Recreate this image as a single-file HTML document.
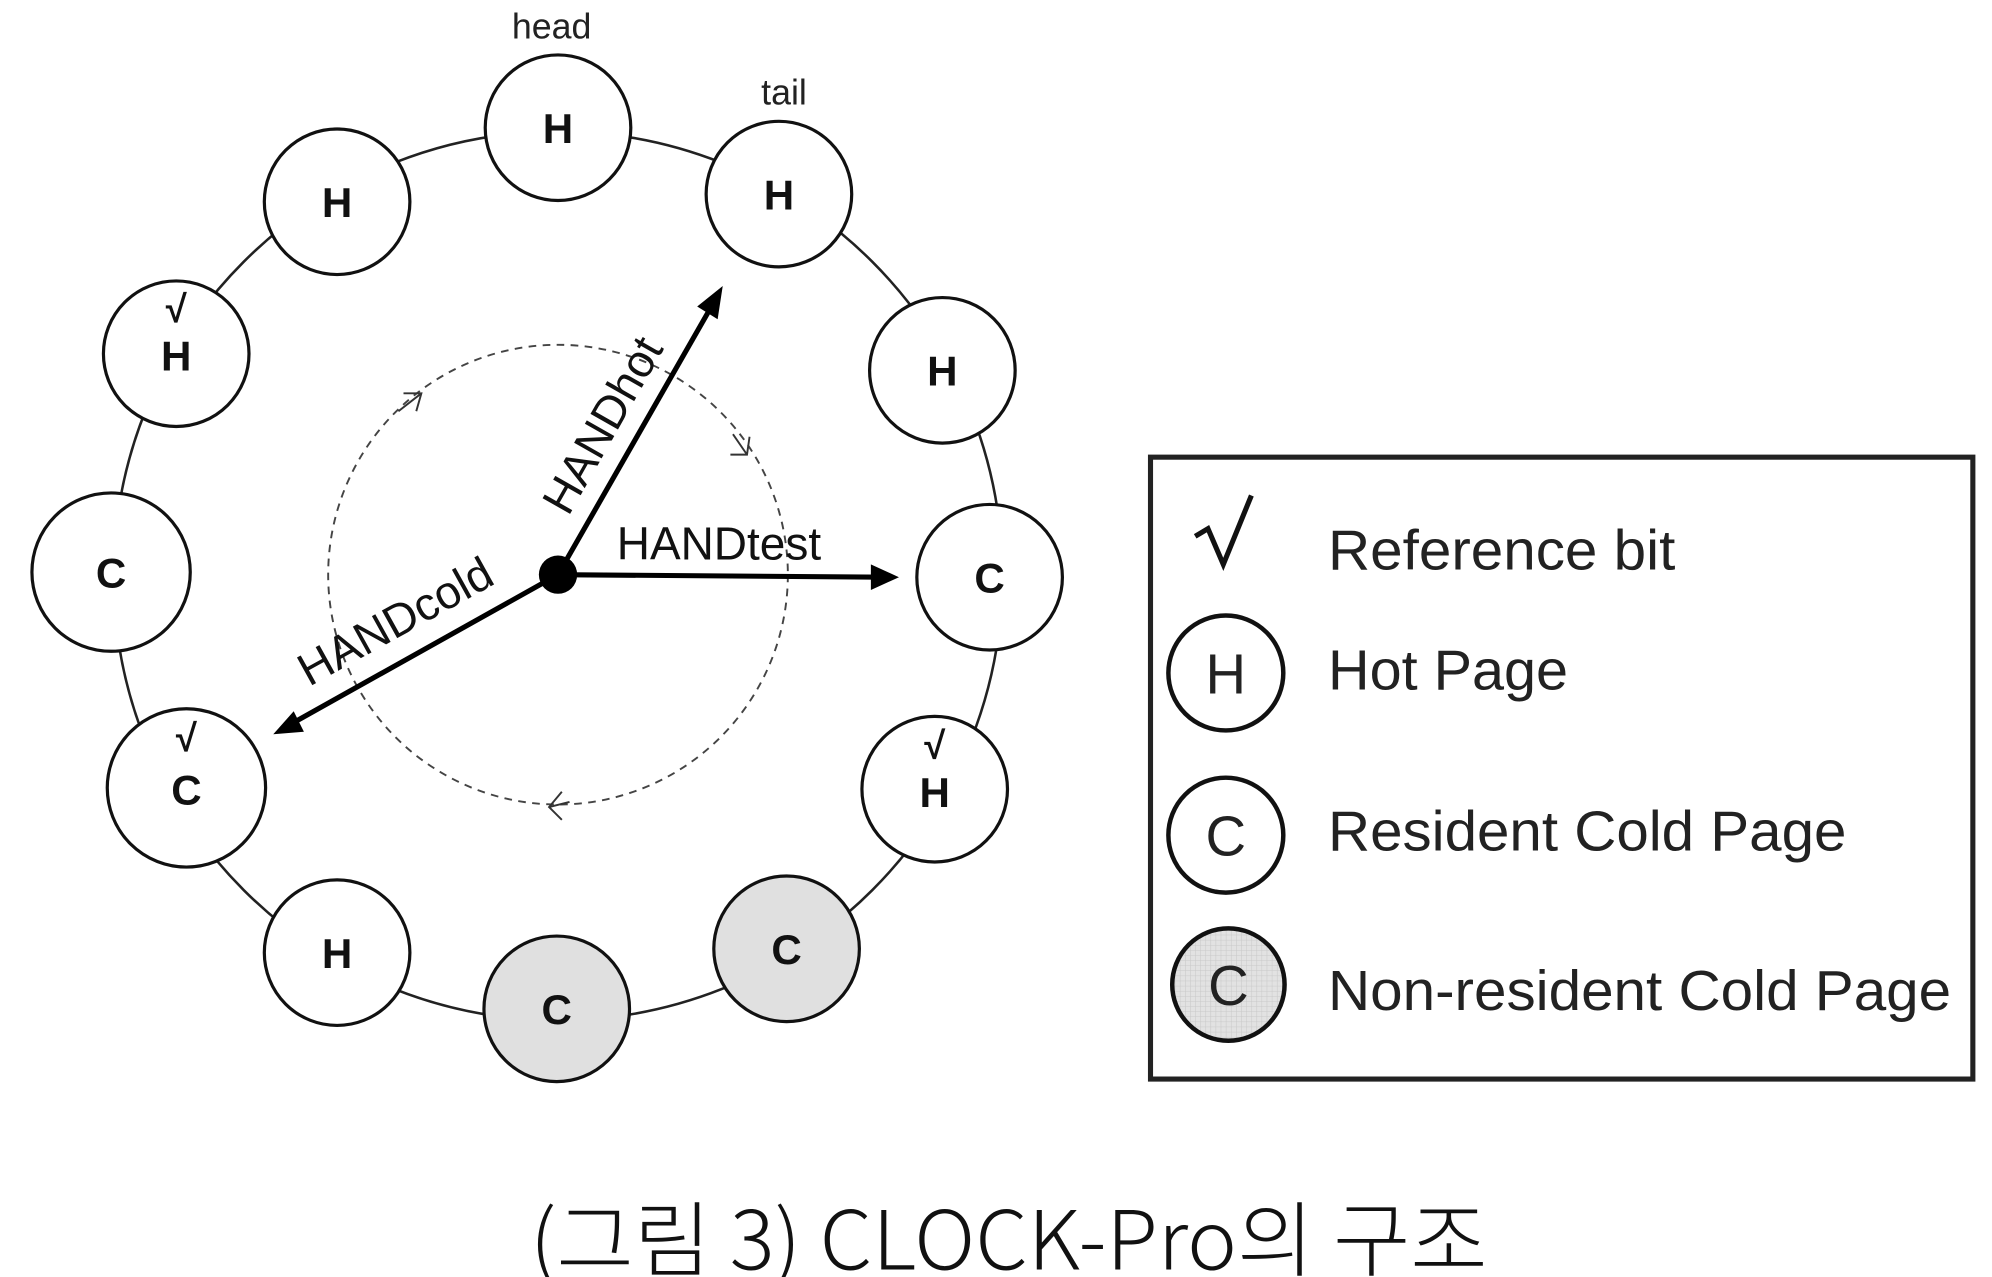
<!DOCTYPE html>
<html><head><meta charset="utf-8"><style>
html,body{margin:0;padding:0;background:#fff;}
svg{display:block;}
</style></head><body>
<svg width="1992" height="1277" viewBox="0 0 1560 1000" preserveAspectRatio="none" xmlns="http://www.w3.org/2000/svg">
<defs>
<pattern id="g" width="4" height="4" patternUnits="userSpaceOnUse"><rect width="4" height="4" fill="#e2e2e2"/><path d="M0 0H4M0 0V4" stroke="#c8c8c8" stroke-width="0.8"/></pattern>
</defs>
<g font-family="Liberation Sans, sans-serif">
<circle cx="437" cy="451" r="348" fill="none" stroke="#222" stroke-width="2"/>
<circle cx="437" cy="450" r="180" fill="none" stroke="#444" stroke-width="1.5" stroke-dasharray="6,5"/>
<path d="M312 322l18-14M316 308l14 0 -4 14" fill="none" stroke="#333" stroke-width="1.5"/>
<path d="M574 340l11 16M572 356l13 0 2-14" fill="none" stroke="#333" stroke-width="1.5"/>
<path d="M446 628l-16 4M440 620l-10 12 10 10" fill="none" stroke="#333" stroke-width="1.5"/>
<g stroke="#111" stroke-width="2.5">
<circle cx="437" cy="100" r="57" fill="#fff"/>
<circle cx="610" cy="152" r="57" fill="#fff"/>
<circle cx="738" cy="290" r="57" fill="#fff"/>
<circle cx="775" cy="452" r="57" fill="#fff"/>
<circle cx="732" cy="618" r="57" fill="#fff"/>
<circle cx="616" cy="743" r="57" fill="#e0e0e0"/>
<circle cx="436" cy="790" r="57" fill="#e0e0e0"/>
<circle cx="264" cy="746" r="57" fill="#fff"/>
<circle cx="146" cy="617" r="62" fill="#fff"/>
<circle cx="87" cy="448" r="62" fill="#fff"/>
<circle cx="138" cy="277" r="57" fill="#fff"/>
<circle cx="264" cy="158" r="57" fill="#fff"/>
</g>
<g font-weight="bold" font-size="33" text-anchor="middle" fill="#111">
<text x="437" y="112">H</text>
<text x="610" y="164">H</text>
<text x="738" y="302">H</text>
<text x="775" y="464">C</text>
<text x="732" y="632">H</text>
<text x="616" y="755">C</text>
<text x="436" y="802">C</text>
<text x="264" y="758">H</text>
<text x="146" y="630">C</text>
<text x="87" y="460">C</text>
<text x="138" y="290">H</text>
<text x="264" y="170">H</text>
</g>
<g font-size="30" font-weight="bold" text-anchor="middle" fill="#111">
<text x="732" y="594">√</text><text x="146" y="588">√</text><text x="138" y="252">√</text>
</g>
<text x="432" y="30" font-size="28" text-anchor="middle" fill="#222">head</text>
<text x="614" y="82" font-size="28" text-anchor="middle" fill="#222">tail</text>
<g stroke="#000" stroke-width="4" fill="none">
<line x1="437" y1="450" x2="560" y2="235"/>
<line x1="437" y1="450" x2="692" y2="452"/>
<line x1="437" y1="450" x2="226" y2="568"/>
</g>
<path d="M566 224l-4 26-16-10z" fill="#000"/>
<path d="M704 452l-22 -10v20z" fill="#000"/>
<path d="M214 575l24-2-8-16z" fill="#000"/>
<circle cx="437" cy="450" r="15" fill="#000"/>
<text x="483" y="438" font-size="36" fill="#111">HANDtest</text>
<text transform="translate(445,405) rotate(-60.4)" font-size="36" fill="#111">HANDhot</text>
<text transform="translate(242,538) rotate(-29)" font-size="36" fill="#111">HANDcold</text>
<rect x="901" y="358" width="644" height="487" fill="#fff" stroke="#222" stroke-width="4"/>
<path d="M936 420l10-6 12 28 22-54" fill="none" stroke="#111" stroke-width="4"/>
<g stroke="#111" stroke-width="3.5">
<circle cx="960" cy="527" r="45" fill="#fff"/>
<circle cx="960" cy="654" r="45" fill="#fff"/>
<circle cx="962" cy="771" r="44" fill="url(#g)"/>
</g>
<g font-size="44" fill="#222" text-anchor="middle">
<text x="960" y="543">H</text><text x="960" y="670">C</text><text x="962" y="787">C</text>
</g>
<g font-size="44" fill="#222">
<text x="1040" y="446" textLength="272" lengthAdjust="spacingAndGlyphs">Reference bit</text>
<text x="1040" y="540" textLength="188" lengthAdjust="spacingAndGlyphs">Hot Page</text>
<text x="1040" y="666" textLength="406" lengthAdjust="spacingAndGlyphs">Resident Cold Page</text>
<text x="1040" y="791" textLength="488" lengthAdjust="spacingAndGlyphs">Non-resident Cold Page</text>
</g>
<text x="790" y="994" font-size="64" text-anchor="middle" fill="#111" font-family="'Noto Sans CJK KR', sans-serif" font-weight="300" textLength="750" lengthAdjust="spacingAndGlyphs">(그림 3) CLOCK-Pro의 구조</text>
</g>
</svg>
</body></html>
